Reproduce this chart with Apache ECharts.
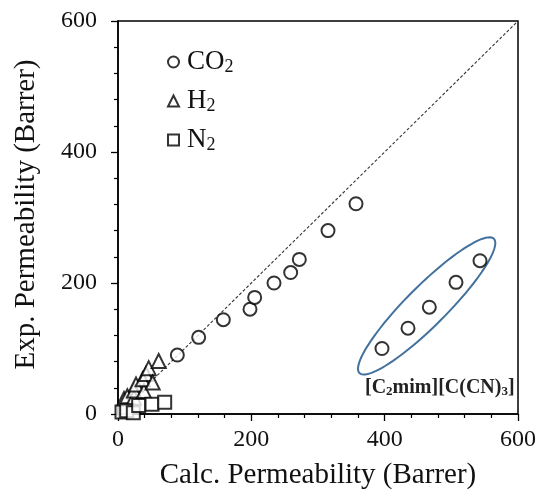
<!DOCTYPE html>
<html>
<head>
<meta charset="utf-8">
<script src="https://cdn.jsdelivr.net/npm/echarts@6/dist/echarts.min.js"></script>
<style>
  html, body { margin: 0; padding: 0; background: #fff; }
  #main { width: 539px; height: 495px; }
</style>
</head>
<body>
<div id="main"></div>
<script>
// 数据 (calc, exp) in Barrer
var co2 = [
  [89, 90], [121, 117], [158, 144], [198, 160], [205, 178],
  [234, 200], [259, 216], [272, 236], [315, 280], [357, 321],
  // [C2mim][C(CN)3]
  [396, 100], [435, 131], [467, 163], [507, 201], [543, 234]
];
var h2 = [
  [9, 23], [14, 27], [24, 25], [24, 36], [27, 45], [39, 35],
  [37, 53], [42, 61], [46, 70], [52, 48], [61, 81]
];
var n2 = [
  [6, 3], [13, 5], [23, 2], [31, 13], [51, 15], [70, 18]
];
var parity = [[0, 0], [600, 600]];
var ellipseCenter = [[463, 165]];
var axisTicks = [0, 200, 400, 600];

var serif = "'Liberation Serif', 'Times New Roman', serif";
var subs = { CO2: "{a|CO}{s|2}", H2: "{a|H}{s|2}", N2: "{a|N}{s|2}" };

var chartDom = document.getElementById("main");
var myChart = echarts.init(chartDom);
var option;

function axisCommon(name, gap) {
  return {
    type: "value",
    min: axisTicks[0],
    max: axisTicks[axisTicks.length - 1],
    interval: axisTicks[1] - axisTicks[0],
    name: name,
    nameLocation: "middle",
    nameGap: gap,
    nameTextStyle: { fontFamily: serif, fontSize: 29, color: "#111" },
    axisLine: { show: true, onZero: false, lineStyle: { color: "#000", width: 1.5 } },
    axisTick: { show: true, inside: false, length: 7, lineStyle: { color: "#000", width: 1.3 } },
    minorTick: { show: true, splitNumber: 5, length: 4, lineStyle: { color: "#000", width: 1.2 } },
    splitLine: { show: false },
    axisLabel: { fontFamily: serif, fontSize: 24, color: "#111" }
  };
}

var xAxis = axisCommon("Calc. Permeability (Barrer)", 47);
xAxis.axisLabel.margin = 14;
var yAxis = axisCommon("Exp. Permeability (Barrer)", 77);
yAxis.axisLabel.margin = 21;
yAxis.nameTextStyle.padding = [0, 0, 0, 6];

var markerStyle = { color: "#fff", borderColor: "#000", borderWidth: 2 };

option = {
  animation: false,
  backgroundColor: "#fff",
  grid: {
    left: 118, right: 20, top: 21, bottom: 80,
    show: true, borderColor: "#000", borderWidth: 1.5, backgroundColor: "transparent"
  },
  xAxis: xAxis,
  yAxis: yAxis,
  legend: {
    orient: "vertical",
    left: 162,
    top: 43,
    itemWidth: 11,
    itemHeight: 11,
    itemGap: 11,
    data: ["CO2", "H2", "N2"],
    formatter: function (name) { return subs[name]; },
    textStyle: {
      lineHeight: 28,
      rich: {
        a: { fontFamily: serif, fontSize: 27, color: "#111", padding: [0, 0, 0, 3] },
        s: { fontFamily: serif, fontSize: 18, color: "#111", padding: [10, 0, 0, 0] }
      }
    }
  },
  graphic: [
    {
      type: "text",
      left: 365,
      top: 378,
      style: {
        text: "{b|[C}{t|2}{b|mim][C(CN)}{t|3}{b|]}",
        rich: {
          b: { fontFamily: serif, fontWeight: "bold", fontSize: 20, fill: "#222" },
          t: { fontFamily: serif, fontWeight: "bold", fontSize: 13, fill: "#222", padding: [8, 0, 0, 0] }
        }
      }
    }
  ],
  series: [
    {
      name: "parity",
      type: "line",
      data: parity,
      symbol: "none",
      silent: true,
      z: 1,
      lineStyle: { color: "#333", width: 1.1, type: [3, 2] }
    },
    {
      name: "ellipse",
      type: "custom",
      data: ellipseCenter,
      silent: true,
      clip: false,
      z: 1,
      renderItem: function (params, api) {
        var c = api.coord([api.value(0), api.value(1)]);
        var a = 95, b = 20, ang = -Math.PI / 4;
        var pts = [];
        for (var i = 0; i < 96; i++) {
          var t = (i / 96) * Math.PI * 2;
          var ex = a * Math.cos(t), ey = b * Math.sin(t);
          pts.push([
            c[0] + ex * Math.cos(ang) - ey * Math.sin(ang),
            c[1] + ex * Math.sin(ang) + ey * Math.cos(ang)
          ]);
        }
        return {
          type: "polygon",
          shape: { points: pts },
          style: { fill: "none", stroke: "#41719c", lineWidth: 2 }
        };
      }
    },
    {
      name: "CO2",
      type: "scatter",
      symbol: "circle",
      symbolSize: 13,
      data: co2,
      z: 3,
      itemStyle: markerStyle
    },
    {
      name: "H2",
      type: "scatter",
      symbol: "triangle",
      symbolSize: 14,
      data: h2,
      z: 4,
      itemStyle: markerStyle
    },
    {
      name: "N2",
      type: "scatter",
      symbol: "rect",
      symbolSize: 13,
      data: n2,
      z: 5,
      itemStyle: markerStyle
    }
  ]
};
option && myChart.setOption(option);
</script>
</body>
</html>
